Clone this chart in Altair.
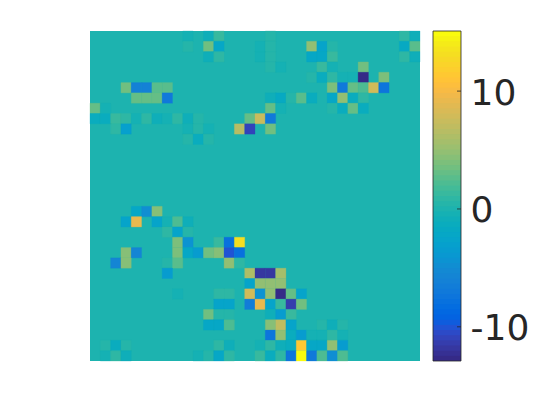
import altair as alt
import pandas as pd

N = 32
VMIN, VMAX = -12.9, 15.1
cbar_ticks = [-10, 0, 10]

parula = [[0.2081,0.1663,0.5292],[0.2116,0.1898,0.5777],[0.2123,0.2138,0.6270],[0.2081,0.2386,0.6771],
[0.1959,0.2645,0.7279],[0.1707,0.2919,0.7792],[0.1253,0.3242,0.8303],[0.0591,0.3598,0.8683],
[0.0117,0.3875,0.8820],[0.0060,0.4086,0.8828],[0.0165,0.4266,0.8786],[0.0329,0.4430,0.8720],
[0.0498,0.4586,0.8641],[0.0629,0.4737,0.8554],[0.0723,0.4887,0.8467],[0.0779,0.5040,0.8384],
[0.0793,0.5200,0.8312],[0.0749,0.5375,0.8263],[0.0641,0.5570,0.8240],[0.0488,0.5772,0.8228],
[0.0343,0.5966,0.8199],[0.0265,0.6137,0.8135],[0.0239,0.6287,0.8038],[0.0231,0.6418,0.7913],
[0.0228,0.6535,0.7768],[0.0267,0.6642,0.7607],[0.0384,0.6743,0.7436],[0.0590,0.6838,0.7254],
[0.0843,0.6928,0.7062],[0.1133,0.7015,0.6859],[0.1453,0.7098,0.6646],[0.1801,0.7177,0.6424],
[0.2178,0.7250,0.6193],[0.2586,0.7317,0.5954],[0.3022,0.7376,0.5712],[0.3482,0.7424,0.5473],
[0.3953,0.7459,0.5244],[0.4420,0.7481,0.5033],[0.4871,0.7491,0.4840],[0.5300,0.7491,0.4661],
[0.5709,0.7485,0.4494],[0.6099,0.7473,0.4337],[0.6473,0.7456,0.4188],[0.6834,0.7435,0.4044],
[0.7184,0.7411,0.3905],[0.7525,0.7384,0.3768],[0.7858,0.7356,0.3633],[0.8185,0.7327,0.3498],
[0.8507,0.7299,0.3360],[0.8824,0.7274,0.3217],[0.9139,0.7258,0.3063],[0.9450,0.7261,0.2886],
[0.9739,0.7314,0.2666],[0.9938,0.7455,0.2403],[0.9990,0.7653,0.2164],[0.9955,0.7861,0.1967],
[0.9880,0.8066,0.1794],[0.9789,0.8271,0.1633],[0.9697,0.8481,0.1475],[0.9626,0.8705,0.1309],
[0.9589,0.8949,0.1132],[0.9598,0.9218,0.0948],[0.9661,0.9514,0.0755],[0.9763,0.9831,0.0538]]
palette = ["#%02x%02x%02x" % tuple(round(c * 255) for c in p) for p in parula]

# row -> {column: value}; every other cell is 0
cells = {
    0: {9: -0.3, 11: -1, 12: 1.2, 17: 0.3, 30: 0.8, 31: -1},
    1: {9: 0.3, 11: 3.5, 12: -2, 16: -0.3, 17: 0.3, 21: 5, 22: -2.5, 23: 0.5, 30: -1.8, 31: 2.5},
    2: {11: -1, 12: 0.8, 16: -0.3, 17: 0.3, 21: -2, 22: -2, 23: 1.2, 30: 0.8, 31: -1},
    3: {17: 0.3, 18: -0.3, 22: 1.5, 23: -0.3, 26: 3.5},
    4: {21: 0.3, 22: -1.2, 23: 0.7, 24: -0.3, 25: -0.5, 26: -12.5, 28: 4},
    5: {3: 3.5, 4: -6, 5: -6, 6: 2.5, 7: 2.5, 23: 4, 24: -7, 25: 3, 26: 2, 27: 8, 28: -7.5},
    6: {4: 3, 5: 3, 6: 3, 7: -7, 17: -1, 18: -1.8, 19: 0.3, 20: 2.5, 21: -1.2, 23: -2, 24: 5, 25: -1.2, 26: 0.8},
    7: {0: 3, 1: -0.3, 17: 3, 18: -0.3, 23: 0.3, 24: -1.2, 25: 3, 26: -1.5},
    8: {0: -1.2, 1: -1.5, 2: 1.5, 3: 1, 4: -0.3, 5: 1, 6: -0.8, 7: -0.3, 8: 0.8, 9: -0.8, 10: 0.4, 15: 3, 16: 7.5, 17: -7},
    9: {2: 0.8, 3: -3, 9: -0.5, 10: 0.4, 11: -0.3, 14: 6.5, 15: -11, 17: 3.5},
    10: {9: 0.6, 10: -1.5, 11: 0.6},
    17: {4: -2, 5: -5, 6: 4.5},
    18: {3: -2.5, 4: 9, 6: -2.5, 7: -0.4, 8: 2, 9: -1},
    19: {7: 0.7, 8: -2.5, 9: 0.4},
    20: {8: 4, 9: -4.5, 12: 1.5, 13: -8, 14: 13},
    21: {3: 4.5, 4: -5.5, 8: 4, 9: -2, 10: -3.5, 11: 3.5, 12: 4.5, 13: -10, 14: -8},
    22: {2: -5.5, 3: 4.5, 7: 0.4, 8: 2.5, 13: 5, 14: 1},
    23: {7: -3.5, 15: 6, 16: -12, 17: -12, 18: 5.5},
    24: {15: -2.5, 16: 5, 17: 5, 18: 5},
    25: {8: -0.3, 12: 0.8, 13: 0.8, 15: 8, 16: -4.5, 17: 5, 18: -12.5, 19: 3, 20: -2.5},
    26: {12: -2.5, 13: -2.5, 15: -6.5, 16: 9, 17: -2.5, 18: 1.5, 19: -11.5, 20: 3.5},
    27: {11: 3.5, 12: 0.3, 13: 0.4, 17: -0.8, 18: -3.5, 19: 1.5},
    28: {11: -2, 12: -2, 13: 2, 17: 4.5, 18: 7, 19: -2.5, 22: 0.4, 23: -0.8, 24: 0.4},
    29: {17: -7.5, 18: 5, 19: -1.5, 20: -3.5, 21: -0.3, 22: -0.3, 23: 0.8, 24: -0.5},
    30: {1: 0.3, 2: -1.5, 3: 0.4, 12: 0.8, 13: -0.8, 16: -0.5, 17: 0.8, 18: -1, 19: -1.5, 20: 11.5, 21: -2, 22: -2, 23: 5, 24: -3.5},
    31: {1: -0.5, 2: 0.8, 3: -0.8, 10: -0.3, 11: 0.4, 12: -2, 13: 0.8, 16: 1.2, 17: -1.5, 18: 0.8, 19: -7.5, 20: 15, 21: -7, 22: 2, 23: -5, 24: 2},
}

grid = pd.DataFrame(
    [{"row": r, "col": c, "v": v} for r, cols in cells.items() for c, v in cols.items()]
)
color_scale = alt.Scale(type="quantize", domain=[VMIN, VMAX], range=palette)
band = alt.Scale(domain=list(range(N)), paddingInner=0, paddingOuter=0, round=False)

zero_color = palette[29]
heat = (
    alt.Chart(grid)
    .mark_rect(strokeWidth=0.3)
    .encode(
        x=alt.X("col:O", scale=band, axis=None),
        y=alt.Y("row:O", scale=band, axis=None),
        color=alt.Color("v:Q", scale=color_scale, legend=None),
        stroke=alt.Stroke("v:Q", scale=color_scale, legend=None),
    )
    .properties(width=330, height=330, view=alt.ViewConfig(fill=zero_color, stroke=None))
)

step = (VMAX - VMIN) / len(palette)
levels = pd.DataFrame(
    [
        {"lo": VMIN + i * step, "hi": min(VMAX, VMIN + (i + 2) * step), "mid": VMIN + (i + 0.5) * step}
        for i in range(len(palette))
    ]
)
y_scale = alt.Scale(domain=[VMIN, VMAX], nice=False, zero=False)
y_axis = alt.Axis(
    orient="right", values=cbar_ticks, ticks=False, domain=False, grid=False,
    labelFont="DejaVu Sans", labelFontSize=36, labelColor="#262626",
    labelPadding=9, labelAlign="left", labelBaseline="middle", labelOffset=2,
    labelExpr="'' + datum.value", title=None,
)
bar = (
    alt.Chart(levels)
    .mark_rect()
    .encode(
        x=alt.value(0),
        x2=alt.value(28),
        y=alt.Y("lo:Q", scale=y_scale, axis=y_axis),
        y2="hi:Q",
        color=alt.Color("mid:Q", scale=color_scale, legend=None),
    )
)
ticks = (
    alt.Chart(pd.DataFrame({"t": cbar_ticks}))
    .mark_rule(color="#262626", strokeWidth=0.8)
    .encode(x=alt.value(24), x2=alt.value(28), y=alt.Y("t:Q", scale=y_scale, axis=y_axis))
)
frame = (
    alt.Chart(pd.DataFrame({"a": [0]}))
    .mark_rect(filled=False, stroke="#262626", strokeWidth=0.8)
    .encode(x=alt.value(0), x2=alt.value(28), y=alt.value(0), y2=alt.value(330))
)
cbar = alt.layer(bar, ticks, frame).properties(width=28, height=330)

chart = (
    alt.hconcat(heat, cbar, spacing=11)
    .resolve_scale(color="independent", stroke="independent")
    .properties(padding={"left": 81, "top": 22, "right": 0, "bottom": 0})
    .configure_view(stroke=None)
)
chart.save("out.html", embed_options={"renderer": "svg", "actions": False})
